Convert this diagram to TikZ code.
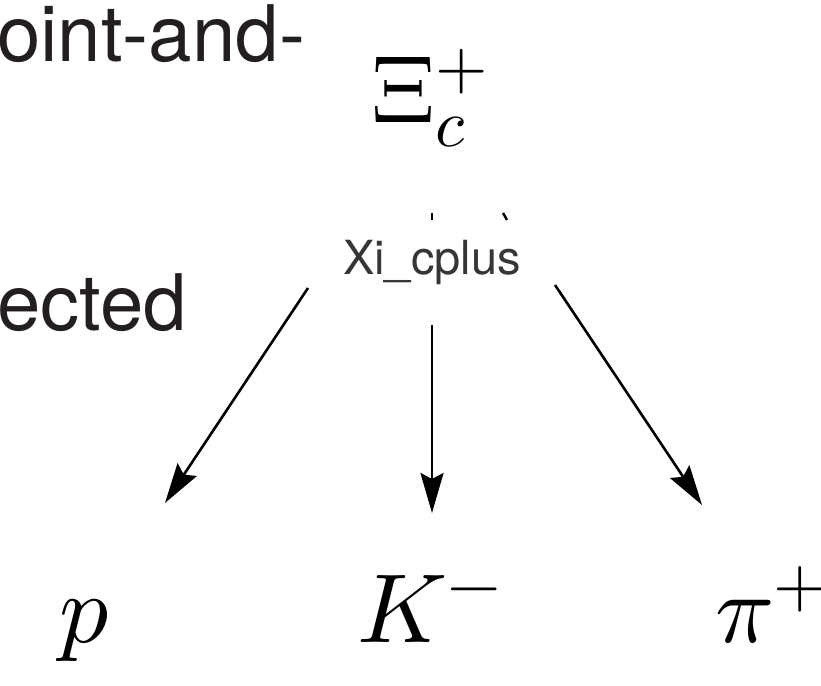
\documentclass[tikz,border=0pt]{standalone}
\usepackage{fontspec}
\usepackage{unicode-math}
\setmainfont{TeX Gyre Heros}
\setmathfont{Latin Modern Math}
\usetikzlibrary{arrows.meta}
\definecolor{ink}{HTML}{231F20}
\definecolor{lblgray}{HTML}{363636}
\tikzset{
  bigtext/.style={anchor=base west,inner sep=0pt,text=ink,font=\fontsize{78}{82}\selectfont},
  lbltext/.style={anchor=base west,inner sep=0pt,text=lblgray,font=\fontsize{47}{50}\selectfont},
  topparticle/.style={anchor=base west,inner sep=0pt,font=\fontsize{96}{100}\selectfont},
  particle/.style={anchor=base west,inner sep=0pt,font=\fontsize{98}{102}\selectfont},
  decay/.style={line width=2.6pt,-{Stealth[length=40pt,width=23pt,inset=6pt]}},
  tick/.style={line width=2.4pt}
}
\begin{document}
\begin{tikzpicture}[x=1pt,y=1pt]
\clip (0,0) rectangle (821,685);
\useasboundingbox (0,0) rectangle (821,685);
\node[bigtext] (t1) at (-3,623) {oint-and-};
\node[bigtext] (t2) at (-3,354) {ected};
\node[topparticle] (xi) at (371,562) {$\Xi_c^+$};
\node[lbltext] (lbl) at (343,410) {Xi\_cplus};
\node[particle] (p) at (59,43) {$p$};
\node[particle] (k) at (357,43) {$K^-$};
\node[particle] (pi) at (715,43) {$\pi^+$};
\coordinate (s1) at (308,397);
\coordinate (s2) at (432,360);
\coordinate (s3) at (555,400);
\coordinate (e1) at (165,182);
\coordinate (e2) at (432,172);
\coordinate (e3) at (702,180);
\draw[decay] (s1) -- (e1);
\draw[decay] (s2) -- (e2);
\draw[decay] (s3) -- (e3);
\coordinate (k1a) at (432,472);
\coordinate (k1b) at (432,465);
\coordinate (k2a) at (503,472);
\coordinate (k2b) at (507,465);
\draw[tick] (k1a) -- (k1b);
\draw[tick] (k2a) -- (k2b);
\end{tikzpicture}
\end{document}
